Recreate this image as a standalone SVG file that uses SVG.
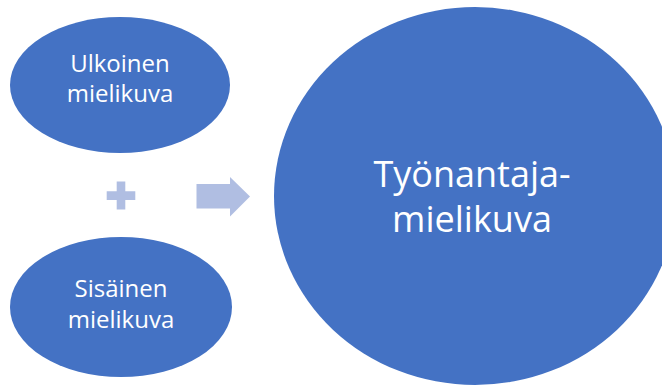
<svg xmlns="http://www.w3.org/2000/svg" width="662" height="385" viewBox="0 0 662 385">
  <style>
    .node { fill: #4472C4; }
    .label { fill: #FFFFFF; font-family: "Open Sans", "Noto Sans", "Liberation Sans", sans-serif; text-anchor: middle; }
    .small { font-size: 24px; }
    .large { font-size: 36px; }
    .sym { fill: #B0BEE2; }
  </style>
  <rect width="662" height="385" fill="#FFFFFF"/>

  <g id="ulkoinen">
    <ellipse class="node" cx="120" cy="85" rx="110" ry="68"/>
    <text class="label small" x="120" y="72">Ulkoinen</text>
    <text class="label small" x="120" y="102">mielikuva</text>
  </g>

  <g id="sisainen">
    <ellipse class="node" cx="121" cy="307" rx="111" ry="70"/>
    <text class="label small" x="121" y="297">Sisäinen</text>
    <text class="label small" x="121" y="328">mielikuva</text>
  </g>

  <g id="tyonantajamielikuva">
    <ellipse class="node" cx="475" cy="196" rx="201" ry="189"/>
    <text class="label large" x="472" y="187">Työnantaja-</text>
    <text class="label large" x="472" y="232">mielikuva</text>
  </g>

  <g id="connectors">
    <!-- plus sign between the two source ellipses -->
    <path class="sym" d="M116.7,181.5 H125.3 V191.3 H135.3 V200 H125.3 V209.5 H116.7 V200 H106.7 V191.3 H116.7 Z"/>
    <!-- block arrow pointing to the result circle -->
    <path class="sym" d="M196.5,184 H230 V177 L250,196.5 L230,216.5 V208.5 H196.5 Z"/>
  </g>
</svg>
